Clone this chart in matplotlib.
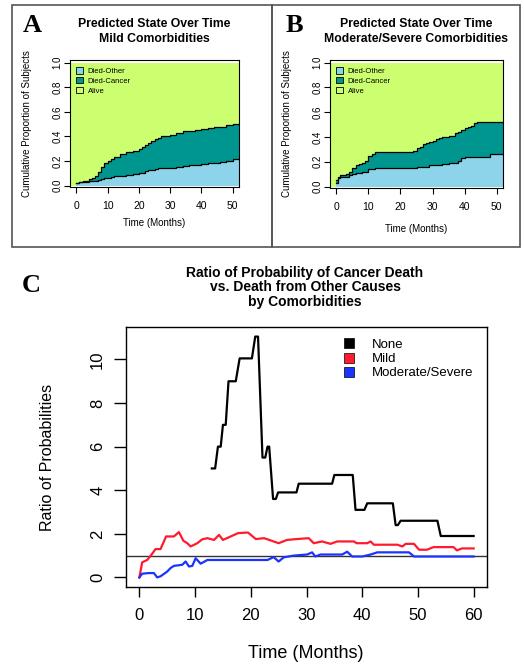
import matplotlib
matplotlib.use("Agg")
import matplotlib.pyplot as plt
from matplotlib.patches import Patch, Rectangle
from matplotlib.lines import Line2D

plt.rcParams["font.family"] = ["Liberation Sans", "DejaVu Sans"]

W, H = 524, 668

# ── 数据：A 轻度合并症（累计比例）──────────────────────────────
a_months = [0, 1, 2, 3, 4, 5, 6, 7, 8, 9, 10, 11, 12, 14, 16, 18, 20, 21, 22, 23,
            24, 25, 26, 27, 28, 30, 32, 34, 36, 38, 40, 42, 44, 46, 48, 50, 52]
a_other = [0.02, 0.025, 0.03, 0.03, 0.035, 0.04, 0.04, 0.045, 0.055, 0.06, 0.065,
           0.07, 0.075, 0.08, 0.085, 0.09, 0.10, 0.105, 0.115, 0.125, 0.13, 0.135,
           0.14, 0.14, 0.145, 0.145, 0.15, 0.16, 0.165, 0.17, 0.175, 0.18, 0.185,
           0.195, 0.20, 0.215, 0.225]
a_cancer = [0.02, 0.03, 0.035, 0.04, 0.05, 0.06, 0.08, 0.11, 0.15, 0.18, 0.20,
            0.215, 0.23, 0.255, 0.27, 0.285, 0.30, 0.315, 0.33, 0.35, 0.365, 0.38,
            0.39, 0.40, 0.405, 0.41, 0.425, 0.44, 0.445, 0.455, 0.46, 0.47, 0.475,
            0.48, 0.49, 0.50, 0.505]

# ── 数据：B 中/重度合并症 ───────────────────────────────────────
b_months = [0, 0.5, 1, 3, 4, 5, 6, 7, 8, 9, 10, 11, 12, 24, 25, 26, 27, 28, 29, 30,
            31, 32, 33, 35, 37, 38, 39, 40, 41, 42, 43, 44, 48, 50, 52]
b_other = [0.03, 0.07, 0.08, 0.08, 0.09, 0.10, 0.11, 0.11, 0.12, 0.12, 0.14, 0.14,
           0.15, 0.15, 0.16, 0.16, 0.16, 0.16, 0.17, 0.17, 0.17, 0.17, 0.18, 0.19,
           0.19, 0.21, 0.23, 0.24, 0.24, 0.24, 0.24, 0.24, 0.26, 0.265, 0.265]
b_cancer = [0.05, 0.08, 0.09, 0.10, 0.12, 0.15, 0.17, 0.18, 0.19, 0.21, 0.25, 0.26,
            0.28, 0.29, 0.31, 0.32, 0.34, 0.35, 0.36, 0.37, 0.38, 0.39, 0.40, 0.41,
            0.43, 0.44, 0.46, 0.47, 0.48, 0.49, 0.51, 0.52, 0.52, 0.52, 0.52]

state_labels = ["Died-Other", "Died-Cancer", "Alive"]
state_colors = ["#8dd3ea", "#009690", "#ccff70"]

# ── 数据：C 癌症死亡 / 其他原因死亡 概率比 ──────────────────────
none_t = [13.0, 13.6, 14.1, 14.6, 15.0, 15.5, 16.0, 17.3, 18.0, 20.2, 20.8, 21.3,
          22.1, 22.6, 23.0, 23.3, 24.0, 24.5, 24.9, 28.2, 28.6, 34.6, 35.0, 38.3,
          38.8, 40.4, 40.9, 45.5, 46.0, 46.4, 46.9, 53.5, 54.1, 60.0]
none_r = [5.0, 5.0, 6.0, 6.0, 7.0, 7.0, 9.0, 9.0, 10.05, 10.05, 11.05, 11.05,
          5.5, 5.5, 6.0, 6.0, 3.6, 3.6, 3.9, 3.9, 4.3, 4.3, 4.7, 4.7,
          3.1, 3.1, 3.4, 3.4, 2.4, 2.4, 2.6, 2.6, 1.9, 1.9]

mild_t = [0, 0.5, 1.4, 2.2, 2.9, 3.8, 4.8, 6.2, 7.1, 7.9, 8.6, 9.2, 10.4, 11.3, 12.2,
          13.4, 14.3, 15.0, 16.4, 17.7, 19.5, 20.9, 22.4, 25.0, 26.5, 28.3, 30.4,
          31.3, 32.8, 34.3, 35.5, 38.5, 39.0, 40.9, 41.5, 42.1, 46.3, 47.2, 47.8,
          49.3, 50.2, 51.6, 52.8, 56.4, 57.0, 57.9, 60.0]
mild_r = [0.0, 0.69, 0.8, 1.05, 1.3, 1.3, 1.88, 1.88, 2.08, 1.68, 1.57, 1.42, 1.57,
          1.75, 1.8, 1.72, 1.95, 1.72, 1.88, 2.03, 2.06, 1.76, 1.8, 1.57, 1.72, 1.76,
          1.8, 1.57, 1.65, 1.54, 1.65, 1.65, 1.57, 1.57, 1.65, 1.5, 1.5, 1.42, 1.54,
          1.54, 1.27, 1.27, 1.39, 1.39, 1.24, 1.33, 1.33]

mod_t = [0, 0.5, 1.7, 2.6, 3.2, 3.8, 5.0, 5.6, 6.2, 7.7, 8.3, 8.9, 9.5, 10.1, 11.0,
         12.2, 23.0, 24.1, 25.0, 25.9, 27.7, 30.1, 31.0, 31.6, 32.5, 36.4, 37.3,
         38.2, 40.0, 41.5, 42.7, 48.4, 49.3, 60.0]
mod_r = [0.0, 0.17, 0.2, 0.2, 0.0, 0.05, 0.27, 0.43, 0.53, 0.58, 0.73, 0.5, 0.53,
         0.88, 0.63, 0.8, 0.8, 0.93, 0.73, 0.92, 1.0, 1.05, 1.15, 0.96, 1.05, 1.05,
         1.18, 0.96, 0.96, 1.05, 1.15, 1.15, 0.96, 0.96]

ratio_labels = ["None", "Mild", "Moderate/Severe"]
ratio_colors = ["black", "#ff1a2e", "#1a33ff"]


fig = plt.figure(figsize=(W / 100, H / 100), dpi=100)


def px_axes(l, t, r, b):
    return fig.add_axes([l / W, 1 - b / H, (r - l) / W, (b - t) / H])


# 面板外框
for (l, t, r, b) in [(12, 5, 272, 247), (272, 5, 520, 247)]:
    fig.patches.append(Rectangle((l / W, 1 - b / H), (r - l) / W, (b - t) / H,
                                 transform=fig.transFigure, fill=False,
                                 edgecolor="#555555", linewidth=1.2))


def state_panel(box, months, other, cancer, subtitle, letter, letter_x,
                ylab_x, xlab_y):
    l, t, r, b = box
    ax = px_axes(l, t, r, b)
    ax.set_xlim(-2, 52)
    ax.set_ylim(-0.012, 1.022)
    ax.fill_between([-2, 52], 0, 1, color=state_colors[2], linewidth=0)
    ax.fill_between(months, other, cancer, step="post",
                    color=state_colors[1], linewidth=0)
    ax.fill_between(months, 0, other, step="post",
                    color=state_colors[0], linewidth=0)
    ax.step(months, cancer, where="post", color="black", linewidth=0.9)
    ax.step(months, other, where="post", color="black", linewidth=0.9)
    ax.set_xticks(range(0, 51, 10))
    ax.set_yticks([0, 0.2, 0.4, 0.6, 0.8, 1.0])
    ax.set_yticklabels(["0.0", "0.2", "0.4", "0.6", "0.8", "1.0"],
                       rotation=90, va="center")
    ax.tick_params(axis="x", labelsize=7.5, length=4, pad=6, width=0.8)
    ax.tick_params(axis="y", labelsize=7, length=4, pad=1.5, width=0.8)
    for sp in ax.spines.values():
        sp.set_linewidth(0.8)
    handles = [Patch(facecolor=c, edgecolor="black", linewidth=0.6)
               for c in state_colors]
    ax.legend(handles, state_labels, loc="upper left", bbox_to_anchor=(0.0, 0.99),
              frameon=False, fontsize=5.5, handlelength=0.9, handleheight=0.9,
              handletextpad=0.6, labelspacing=0.25, borderaxespad=0.4)
    cx = (l + r) / 2 / W
    fig.text(cx, 1 - 24 / H, "Predicted State Over Time", ha="center",
             va="center", fontsize=8.8, fontweight="bold")
    fig.text(cx, 1 - 39 / H, subtitle, ha="center", va="center",
             fontsize=8.8, fontweight="bold")
    fig.text(ylab_x / W, 1 - (t + b) / 2 / H, "Cumulative Proportion of Subjects",
             rotation=90, ha="center", va="center", fontsize=7)
    fig.text(cx, 1 - xlab_y / H, "Time (Months)", ha="center", va="center",
             fontsize=7)
    fig.text(letter_x / W, 1 - 26 / H, letter, ha="center", va="center",
             fontsize=19, fontweight="bold",
             family=["Liberation Serif", "DejaVu Serif"])
    return ax


state_panel((70, 60, 239, 187), a_months, a_other, a_cancer,
            "Mild Comorbidities", "A", 32, 27, 223)
state_panel((330, 60, 503, 188), b_months, b_other, b_cancer,
            "Moderate/Severe Comorbidities", "B", 294, 287, 229)

# ── C 面板 ───────────────────────────────────────────────────────
ax = px_axes(126, 327, 487, 587)
ax.set_xlim(-2.4, 62.4)
ax.set_ylim(-0.44, 11.49)
ax.axhline(1, color="#333333", linewidth=1.0)
ax.plot(none_t, none_r, color=ratio_colors[0], linewidth=1.6)
ax.plot(mild_t, mild_r, color=ratio_colors[1], linewidth=1.6)
ax.plot(mod_t, mod_r, color=ratio_colors[2], linewidth=1.6)
ax.set_xticks(range(0, 61, 10))
ax.set_yticks(range(0, 11, 2))
ax.set_yticklabels([str(v) for v in range(0, 11, 2)], rotation=90, va="center")
ax.tick_params(axis="x", labelsize=12, length=7, pad=8, width=1.0)
ax.tick_params(axis="y", labelsize=12, length=9, pad=6, width=1.0)
for sp in ax.spines.values():
    sp.set_linewidth(1.0)
handles = [Line2D([], [], marker="s", linestyle="none", markersize=7,
                  markerfacecolor=c, markeredgecolor="black", markeredgewidth=0.5)
           for c in ratio_colors]
ax.legend(handles, ratio_labels, loc="upper left", bbox_to_anchor=(0.559, 0.985),
          frameon=False, fontsize=9.5, handletextpad=0.75, labelspacing=0.15,
          borderaxespad=0.2)

cx = 305 / W
for yy, line in zip([273, 287, 302], ["Ratio of Probability of Cancer Death",
                                       "vs. Death from Other Causes",
                                       "by Comorbidities"]):
    fig.text(cx, 1 - yy / H, line, ha="center", va="center", fontsize=10,
             fontweight="bold")
fig.text(48 / W, 1 - 457 / H, "Ratio of Probabilities", rotation=90,
         ha="center", va="center", fontsize=11.5)
fig.text(306 / W, 1 - 654 / H, "Time (Months)", ha="center", va="center",
         fontsize=13)
fig.text(31 / W, 1 - 285 / H, "C", ha="center", va="center", fontsize=19,
         fontweight="bold", family=["Liberation Serif", "DejaVu Serif"])

fig.savefig("out.png", dpi=100)
